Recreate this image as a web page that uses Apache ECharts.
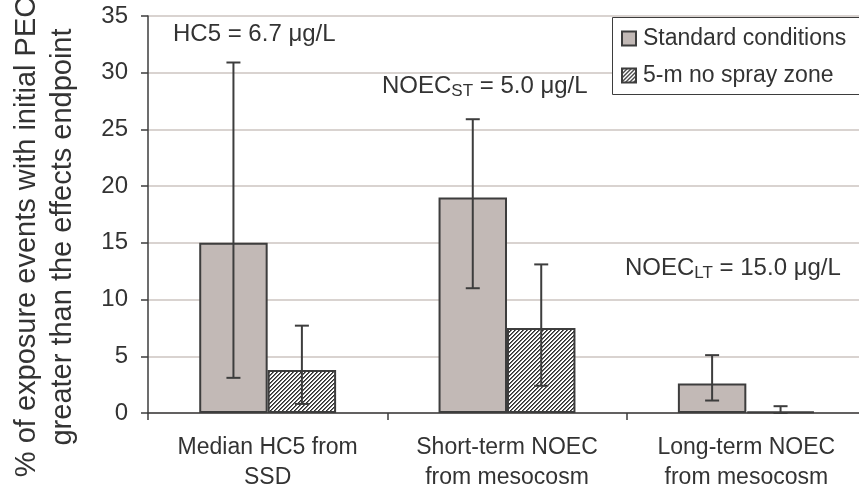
<!DOCTYPE html>
<html>
<head>
<meta charset="utf-8">
<script src="https://cdn.jsdelivr.net/npm/echarts@6/dist/echarts.min.js"></script>
<style>
html,body{margin:0;padding:0;background:#fff;}
#chart{width:859px;height:492px;}
</style>
</head>
<body>
<div id="chart"></div>
<script>
const categories = ['Median HC5 from\nSSD', 'Short-term NOEC\nfrom mesocosm', 'Long-term NOEC\nfrom mesocosm'];
const seriesNames = ['Standard conditions', '5-m no spray zone'];
const standardValues = [15.0, 19.0, 2.6];
const standardLow = [3.1, 11.0, 1.1];
const standardHigh = [30.9, 25.9, 5.1];
const bufferValues = [3.8, 7.5, 0.15];
const bufferLow = [0.8, 2.4, 0.0];
const bufferHigh = [7.7, 13.1, 0.6];
const yTicks = { min: 0, max: 35, interval: 5 };
const yTitle = ['% of exposure events with initial PEC', 'greater than the effects endpoint'];

const FONT = "'Liberation Sans', Arial, sans-serif";
const DARK = '#3d3d3d';

// hatch pattern
const pc = document.createElement('canvas');
pc.width = 4; pc.height = 4;
const pctx = pc.getContext('2d');
pctx.fillStyle = '#ffffff';
pctx.fillRect(0, 0, 4, 4);
for (let y = 0; y < 4; y++) {
  for (let x = 0; x < 4; x++) {
    const k = (x + y) % 4;
    if (k === 0 || k === 1) {
      pctx.fillStyle = k === 0 ? '#2e2e2e' : '#6a6a6a';
      pctx.fillRect(x, y, 1, 1);
    }
  }
}

const HALF = 0.143; // bar centre offset as fraction of band width

function errorSeries(low, high, sign) {
  return {
    type: 'custom',
    z: 10,
    silent: true,
    data: low.map((l, i) => [i, l, high[i]]),
    encode: { x: 0, y: [1, 2] },
    renderItem: function (params, api) {
      const idx = api.value(0);
      const bw = api.size([1, 0])[0];
      const p0 = api.coord([idx, api.value(1)]);
      const p1 = api.coord([idx, api.value(2)]);
      const cx = p0[0] + sign * bw * HALF;
      const cap = 7;
      const st = { stroke: DARK, lineWidth: 2 };
      return {
        type: 'group',
        children: [
          { type: 'line', shape: { x1: cx, y1: p0[1], x2: cx, y2: p1[1] }, style: st },
          { type: 'line', shape: { x1: cx - cap, y1: p0[1], x2: cx + cap, y2: p0[1] }, style: st },
          { type: 'line', shape: { x1: cx - cap, y1: p1[1], x2: cx + cap, y2: p1[1] }, style: st }
        ]
      };
    }
  };
}

const boxStroke = { stroke: DARK, lineWidth: 1 };

const chart = echarts.init(document.getElementById('chart'), null, { renderer: 'canvas' });
chart.setOption({
  animation: false,
  backgroundColor: '#ffffff',
  textStyle: { fontFamily: FONT },
  grid: { left: 148, top: 16, bottom: 79, width: 718, containLabel: false, outerBoundsMode: 'none' },
  legend: {
    data: seriesNames,
    orient: 'vertical',
    left: 612,
    top: 18,
    padding: [9, 10, 10, 9],
    itemGap: 14,
    itemWidth: 14,
    itemHeight: 14,
    icon: 'rect',
    borderWidth: 0,
    borderColor: 'transparent',
    backgroundColor: 'transparent',
    z: 6,
    textStyle: { fontFamily: FONT, fontSize: 23, color: '#333333', padding: [0, 0, 0, 2] }
  },
  xAxis: {
    type: 'category',
    data: categories,
    axisLine: { lineStyle: { color: DARK, width: 1.5 } },
    axisTick: { show: true, length: 7, lineStyle: { color: DARK, width: 1.5 } },
    axisLabel: { fontFamily: FONT, fontSize: 23, color: '#333333', margin: 20, lineHeight: 30 }
  },
  yAxis: {
    type: 'value',
    min: yTicks.min,
    max: yTicks.max,
    interval: yTicks.interval,
    axisLine: { show: true, lineStyle: { color: DARK, width: 1.5 } },
    axisTick: { show: true, length: 7, lineStyle: { color: DARK, width: 1.5 } },
    splitLine: { lineStyle: { color: '#ccc4c0', width: 1.5 } },
    axisLabel: { fontFamily: FONT, fontSize: 24, color: '#333333', margin: 20 }
  },
  graphic: [
    {
      type: 'rect', z: 5, shape: { x: 612, y: 17, width: 300, height: 78 },
      style: { fill: '#ffffff', stroke: 'none' }
    },
    { type: 'line', z: 5, shape: { x1: 612.5, y1: 17.5, x2: 940, y2: 17.5 }, style: boxStroke },
    { type: 'line', z: 5, shape: { x1: 612.5, y1: 17.5, x2: 612.5, y2: 94.5 }, style: boxStroke },
    { type: 'line', z: 5, shape: { x1: 612.5, y1: 94.5, x2: 940, y2: 94.5 }, style: boxStroke },
    {
      type: 'text', x: 45, y: 237, rotation: Math.PI / 2,
      style: { text: yTitle.join('\n'), font: '29px ' + FONT, fill: '#333333', textAlign: 'center', textVerticalAlign: 'middle', lineHeight: 36 }
    },
    {
      type: 'text', x: 173, y: 22,
      style: { text: 'HC5 = 6.7 μg/L', font: '24px ' + FONT, fill: '#333333', textAlign: 'left', textVerticalAlign: 'top' }
    },
    {
      type: 'text', x: 382, y: 72,
      style: {
        text: '{n|NOEC}{s|ST}{n| = 5.0 μg/L}', fill: '#333333', textAlign: 'left', textVerticalAlign: 'top',
        rich: {
          n: { fontFamily: FONT, fontSize: 24, lineHeight: 28, fill: '#333333' },
          s: { fontFamily: FONT, fontSize: 17, lineHeight: 13, verticalAlign: 'bottom', fill: '#333333' }
        }
      }
    },
    {
      type: 'text', x: 625, y: 254,
      style: {
        text: '{n|NOEC}{s|LT}{n| = 15.0 μg/L}', fill: '#333333', textAlign: 'left', textVerticalAlign: 'top',
        rich: {
          n: { fontFamily: FONT, fontSize: 24, lineHeight: 28, fill: '#333333' },
          s: { fontFamily: FONT, fontSize: 17, lineHeight: 13, verticalAlign: 'bottom', fill: '#333333' }
        }
      }
    }
  ],
  series: [
    {
      name: seriesNames[0],
      type: 'bar',
      data: standardValues,
      barGap: '0%',
      barCategoryGap: '42.8%',
      itemStyle: { color: '#c2b9b6', borderColor: DARK, borderWidth: 2 }
    },
    {
      name: seriesNames[1],
      type: 'bar',
      data: bufferValues,
      barGap: '0%',
      barCategoryGap: '42.8%',
      itemStyle: { color: { image: pc, repeat: 'repeat' }, borderColor: DARK, borderWidth: 2 }
    },
    errorSeries(standardLow, standardHigh, -1),
    errorSeries(bufferLow, bufferHigh, 1)
  ]
});
</script>
</body>
</html>
